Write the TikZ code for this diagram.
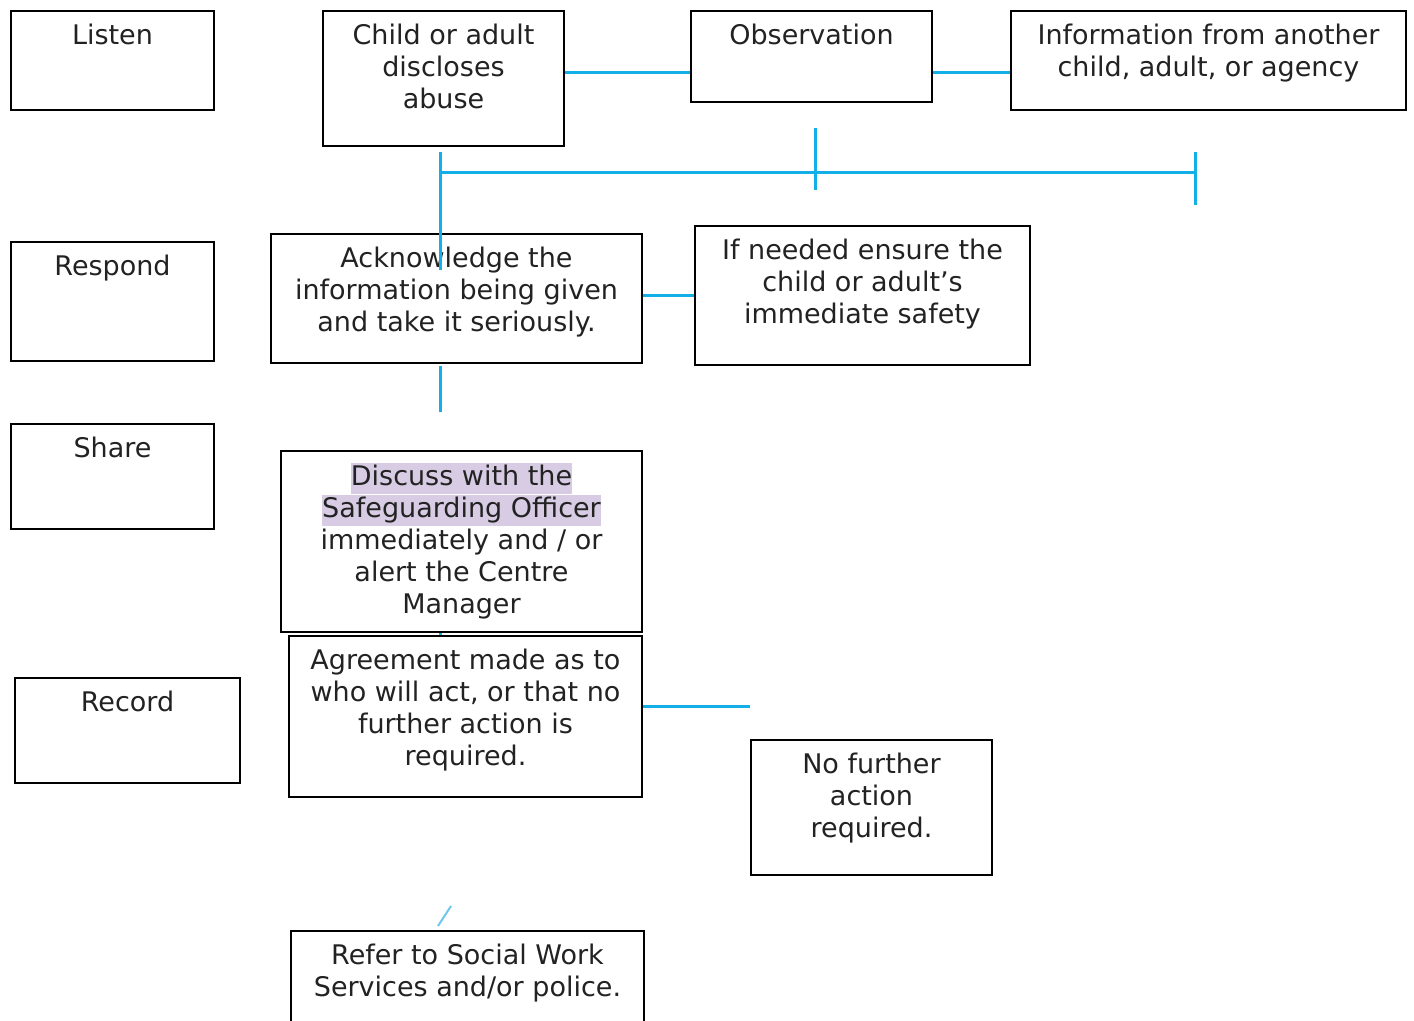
\documentclass[tikz,border=0pt]{standalone}
\usepackage{fontspec}
\setmainfont{DejaVu Sans}
\usepackage{xcolor}
\definecolor{sglink}{RGB}{18,176,230}
\definecolor{sglight}{RGB}{110,200,238}
\definecolor{sgmark}{RGB}{216,204,228}
\definecolor{sgtext}{RGB}{34,34,34}
\usetikzlibrary{positioning}
\newcommand{\marked}[1]{{\setlength{\fboxsep}{0pt}\colorbox{sgmark}{\rule[-4.3pt]{0pt}{15.5pt}#1}}}
\tikzset{
  stage/.style={draw=black, line width=1pt, anchor=north west, inner sep=0pt},
  caption/.style={align=center, inner sep=0pt, text=sgtext, font=\fontsize{13.5}{16}\selectfont},
  link/.style={draw=sglink, line width=1.5pt},
}

\begin{document}
\begin{tikzpicture}[x=0.5pt, y=-0.5pt]
  \useasboundingbox (0,0) rectangle (1414,1021);

  %% Stage names
  \node[stage, minimum width=101.5pt, minimum height=49.5pt] (listen)  at (10,10)  {};
  \node[stage, minimum width=101.5pt, minimum height=59.5pt] (respond) at (10,241) {};
  \node[stage, minimum width=101.5pt, minimum height=52.5pt] (share)   at (10,423) {};
  \node[stage, minimum width=112.5pt, minimum height=52.5pt] (record)  at (14,677) {};
  \node[caption, below=7pt of listen.north]  (listen text)  {Listen};
  \node[caption, below=7pt of respond.north] (respond text) {Respond};
  \node[caption, below=7pt of share.north]   (share text)   {Share};
  \node[caption, below=7pt of record.north]  (record text)  {Record};

  %% Ways of learning about abuse
  \node[stage, minimum width=120.5pt, minimum height=67.5pt] (disclose) at (322,10)  {};
  \node[stage, minimum width=120.5pt, minimum height=45.5pt] (observe)  at (690,10)  {};
  \node[stage, minimum width=197.5pt, minimum height=49.5pt] (inform)   at (1010,10) {};
  \node[caption, below=7pt of disclose.north] (disclose text) {Child or adult\\discloses\\abuse};
  \node[caption, below=7pt of observe.north]  (observe text)  {Observation};
  \node[caption, below=7pt of inform.north]   (inform text)   {Information from another\\child, adult, or agency};

  %% Response
  \node[stage, minimum width=185.5pt, minimum height=64.5pt] (ack)    at (270,233) {};
  \node[stage, minimum width=167.5pt, minimum height=69.5pt] (safety) at (694,225) {};
  \node[caption, below=7pt of ack.north]    (ack text)    {Acknowledge the\\information being given\\and take it seriously.};
  \node[caption, below=7pt of safety.north] (safety text) {If needed ensure the\\child or adult’s\\immediate safety};

  %% Sharing and recording
  \node[stage, minimum width=180.5pt, minimum height=90.5pt] (discuss) at (280,450) {};
  \node[stage, minimum width=176.5pt, minimum height=80.5pt] (agree)   at (288,635) {};
  \node[stage, minimum width=120.5pt, minimum height=67.5pt] (nfa)     at (750,739) {};
  \node[stage, minimum width=176.5pt, minimum height=55pt]   (refer)   at (290,930) {};
  \node[caption, below=6.5pt of discuss.north] (discuss text) {\marked{Discuss with the}\\\marked{Safeguarding Officer}\\immediately and / or\\alert the Centre\\Manager};
  \node[caption, below=7pt of agree.north] (agree text) {Agreement made as to\\who will act, or that no\\further action is\\required.};
  \node[caption, below=7pt of nfa.north]   (nfa text)   {No further\\action\\required.};
  \node[caption, below=7pt of refer.north] (refer text) {Refer to Social Work\\Services and/or police.};

  %% Connectors
  \coordinate (top line) at ([yshift=2.75pt]disclose.east);
  \draw[link] (top line) -- (top line -| observe.west);
  \draw[link] (top line -| observe.east) -- (top line -| inform.west);

  \coordinate (bus west) at (440,173);
  \coordinate (bus mid)  at (815,173);
  \coordinate (bus east) at (1195,173);
  \draw[link] (bus west) -- (bus east);
  \draw[link] ([yshift=10.5pt]bus west) -- ([yshift=-48.5pt]bus west);
  \draw[link] ([yshift=22.5pt]bus mid)  -- ([yshift=-8.5pt]bus mid);
  \draw[link] ([yshift=10.5pt]bus east) -- ([yshift=-16pt]bus east);

  \draw[link] ([yshift=1.25pt]ack.east) -- ([yshift=1.25pt]ack.east -| safety.west);
  \draw[link] ([yshift=-1pt]ack.south -| bus west) -- ++(0,46);
  \draw[link] (discuss.south -| bus west) -- (agree.north -| bus west);
  \draw[link] ([yshift=5.25pt]agree.east) -- ++(107,0);
  \draw[link, draw=sglight, line width=1pt] (refer.north) ++(-29.5,-4) -- ++(13,-20);
\end{tikzpicture}
\end{document}
